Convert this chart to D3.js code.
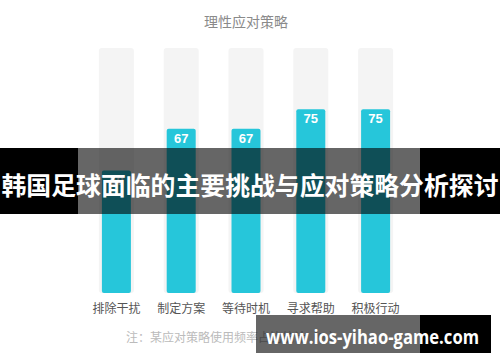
<!DOCTYPE html>
<html>
<head>
<meta charset="utf-8">
<script src="https://cdn.jsdelivr.net/npm/d3@7"></script>
<style>
  body { margin: 0; background: #fff; }
  svg { display: block; font-family: "Noto Sans CJK SC", "Noto Sans", sans-serif; }
</style>
</head>
<body>
<div id="container"></div>
<script>
/** DATA */
const categories = ["排除干扰", "制定方案", "等待时机", "寻求帮助", "积极行动"];
const values = [50, 67, 67, 75, 75];
const maxValue = 100;
const chartTitle = "理性应对策略";
const noteText = "注：某应对策略使用频率占比统计（%）";
const bannerText = "韩国足球面临的主要挑战与应对策略分析探讨";
const siteText = "www.ios-yihao-game.com";

/** CONSTANTS */
const width = 500, height = 362;

const svg = d3.select("#container")
  .append("svg")
  .attr("width", width)
  .attr("height", height);

// scales
const x = d3.scaleBand()
  .domain(categories)
  .range([84, 408]);

const y = d3.scaleLinear()
  .domain([0, maxValue])
  .range([293, 48]);

const bgW = 35, barW = 29;

// title
svg.append("text")
  .attr("x", 246)
  .attr("y", 27)
  .attr("text-anchor", "middle")
  .attr("font-size", 14)
  .attr("fill", "#8a8a8a")
  .text(chartTitle);

// background bars
svg.selectAll(".bg")
  .data(categories)
  .join("rect")
  .attr("class", "bg")
  .attr("x", d => x(d) + x.bandwidth() / 2 - bgW / 2)
  .attr("y", y(maxValue))
  .attr("width", bgW)
  .attr("height", y(0) - y(maxValue))
  .attr("rx", 3)
  .attr("fill", "#f4f4f4");

// value bars
svg.selectAll(".bar")
  .data(values)
  .join("rect")
  .attr("class", "bar")
  .attr("x", (d, i) => x(categories[i]) + x.bandwidth() / 2 - barW / 2)
  .attr("y", d => y(d))
  .attr("width", barW)
  .attr("height", d => y(0) - y(d))
  .attr("rx", 2)
  .attr("fill", "#26c6da");

// value labels
svg.selectAll(".val")
  .data(values)
  .join("text")
  .attr("class", "val")
  .attr("x", (d, i) => x(categories[i]) + x.bandwidth() / 2)
  .attr("y", d => y(d) + 14)
  .attr("text-anchor", "middle")
  .attr("font-family", "'Liberation Sans', Arial, sans-serif")
  .attr("font-weight", "bold")
  .attr("font-size", 13)
  .attr("fill", "#fff")
  .text(d => d);

// category labels
svg.selectAll(".cat")
  .data(categories)
  .join("text")
  .attr("class", "cat")
  .attr("x", d => x(d) + x.bandwidth() / 2)
  .attr("y", 313)
  .attr("text-anchor", "middle")
  .attr("font-size", 12)
  .attr("fill", "#555")
  .text(d => d);

// note
svg.append("text")
  .attr("x", 126)
  .attr("y", 342)
  .attr("font-size", 12)
  .attr("fill", "#bbb")
  .text(noteText);

// banner overlay
const banner = svg.append("g");
banner.append("rect").attr("x", 0).attr("y", 148).attr("width", 78).attr("height", 66).attr("fill", "#000");
banner.append("rect").attr("x", 78).attr("y", 148).attr("width", 342).attr("height", 66).attr("fill", "#000").attr("fill-opacity", 0.6);
banner.append("rect").attr("x", 420).attr("y", 148).attr("width", 80).attr("height", 66).attr("fill", "#000");
banner.append("text")
  .attr("x", 250)
  .attr("y", 195)
  .attr("text-anchor", "middle")
  .attr("font-size", 25)
  .attr("font-weight", "bold")
  .attr("fill", "#fff")
  .attr("textLength", 497)
  .attr("lengthAdjust", "spacingAndGlyphs")
  .text(bannerText);

// site watermark
const mark = svg.append("g");
mark.append("rect").attr("x", 256).attr("y", 315).attr("width", 164).attr("height", 38).attr("fill", "#000").attr("fill-opacity", 0.6);
mark.append("rect").attr("x", 420).attr("y", 315).attr("width", 71).attr("height", 38).attr("fill", "#000");
mark.append("text")
  .attr("x", 266)
  .attr("y", 344)
  .attr("font-family", "'Open Sans', 'Liberation Sans', sans-serif")
  .attr("font-size", 20)
  .attr("font-weight", "bold")
  .attr("fill", "#fff")
  .attr("textLength", 213)
  .attr("lengthAdjust", "spacingAndGlyphs")
  .text(siteText);
</script>
</body>
</html>
